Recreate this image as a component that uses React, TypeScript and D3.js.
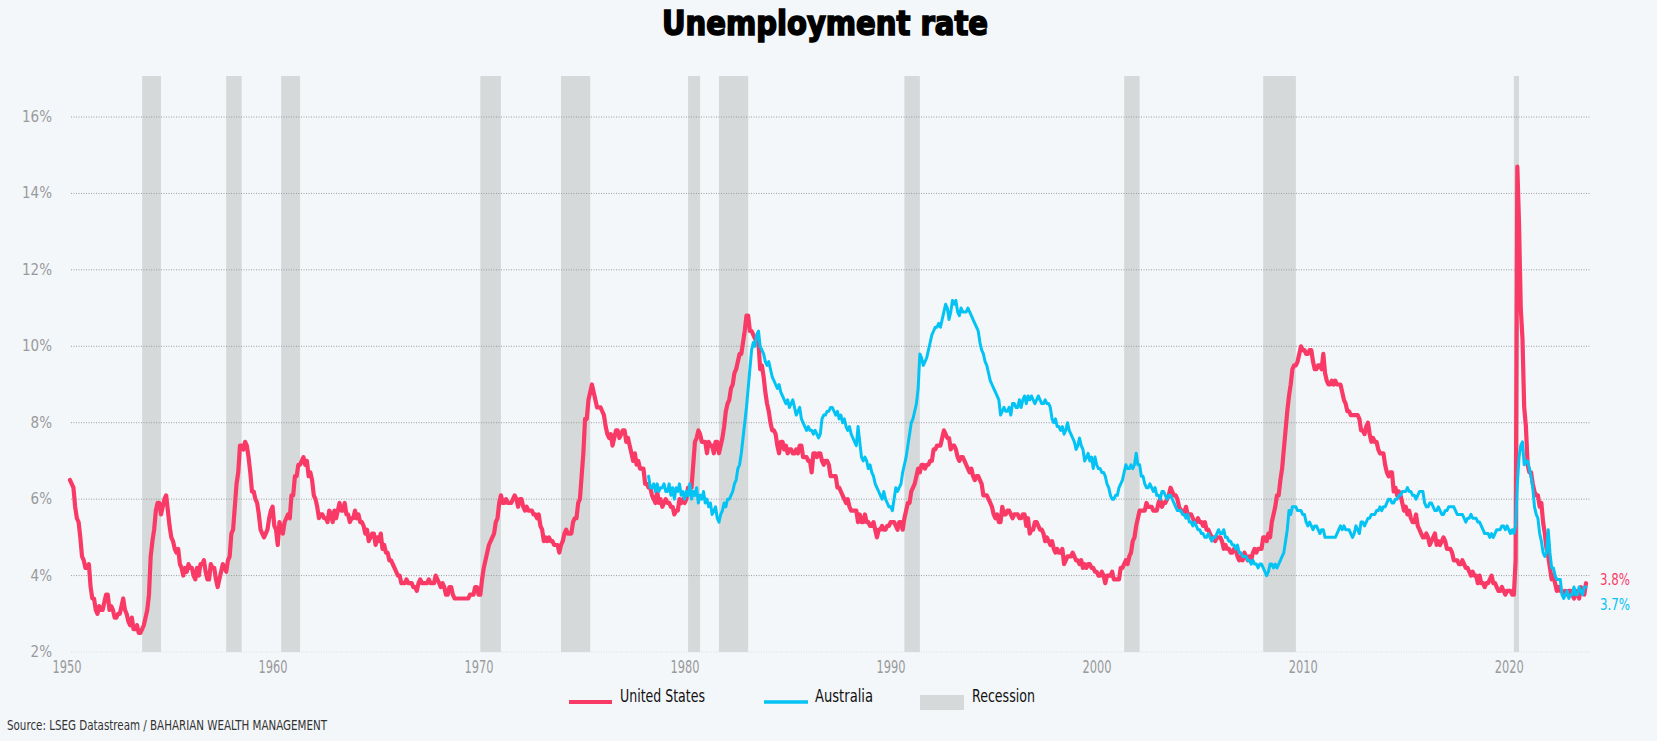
import React from 'react';
import * as d3 from 'd3';

const W = 1657;
const H = 741;
const FONT = "'Liberation Sans Narrow', 'DejaVu Sans Condensed', 'Roboto Condensed', 'DejaVu Sans', sans-serif";

// US unemployment rate, monthly from Jan 1950
const usStart = 1950;
const us1950s = [
  6.5, 6.4, 6.3, 5.8, 5.5, 5.4, 5.0, 4.5, 4.4, 4.2, 4.2, 4.3,
  3.7, 3.4, 3.4, 3.1, 3.0, 3.2, 3.1, 3.1, 3.3, 3.5, 3.5, 3.1,
  3.2, 3.1, 2.9, 2.9, 3.0, 3.0, 3.2, 3.4, 3.1, 3.0, 2.8, 2.7,
  2.9, 2.6, 2.6, 2.7, 2.5, 2.5, 2.6, 2.7, 2.9, 3.1, 3.5, 4.5,
  4.9, 5.2, 5.7, 5.9, 5.9, 5.6, 5.8, 6.0, 6.1, 5.7, 5.3, 5.0,
  4.9, 4.7, 4.6, 4.7, 4.3, 4.2, 4.0, 4.2, 4.1, 4.3, 4.2, 4.2,
  4.0, 3.9, 4.2, 4.0, 4.3, 4.3, 4.4, 4.1, 3.9, 3.9, 4.3, 4.2,
  4.2, 3.9, 3.7, 3.9, 4.1, 4.3, 4.2, 4.1, 4.4, 4.5, 5.1, 5.2,
  5.8, 6.4, 6.7, 7.4, 7.4, 7.3, 7.5, 7.4, 7.1, 6.7, 6.2, 6.2,
  6.0, 5.9, 5.6, 5.2, 5.1, 5.0, 5.1, 5.2, 5.5, 5.7, 5.8, 5.3,
];
const us1960s = [
  5.2, 4.8, 5.4, 5.2, 5.1, 5.4, 5.5, 5.6, 5.5, 6.1, 6.1, 6.6,
  6.6, 6.9, 6.9, 7.0, 7.1, 6.9, 7.0, 6.6, 6.7, 6.5, 6.1, 6.0,
  5.8, 5.5, 5.6, 5.6, 5.5, 5.5, 5.4, 5.7, 5.6, 5.4, 5.7, 5.5,
  5.7, 5.9, 5.7, 5.7, 5.9, 5.6, 5.6, 5.4, 5.5, 5.5, 5.7, 5.5,
  5.6, 5.4, 5.4, 5.3, 5.1, 5.2, 4.9, 5.0, 5.1, 5.1, 4.8, 5.0,
  4.9, 5.1, 4.7, 4.8, 4.6, 4.6, 4.4, 4.4, 4.3, 4.2, 4.1, 4.0,
  4.0, 3.8, 3.8, 3.8, 3.9, 3.8, 3.8, 3.8, 3.7, 3.7, 3.6, 3.8,
  3.9, 3.8, 3.8, 3.8, 3.8, 3.9, 3.8, 3.8, 3.8, 4.0, 3.9, 3.8,
  3.7, 3.8, 3.7, 3.5, 3.5, 3.7, 3.7, 3.5, 3.4, 3.4, 3.4, 3.4,
  3.4, 3.4, 3.4, 3.4, 3.4, 3.5, 3.5, 3.5, 3.7, 3.7, 3.5, 3.5,
];
const us1970s = [
  3.9, 4.2, 4.4, 4.6, 4.8, 4.9, 5.0, 5.1, 5.4, 5.5, 5.9, 6.1,
  5.9, 5.9, 6.0, 5.9, 5.9, 5.9, 6.0, 6.1, 6.0, 5.8, 6.0, 6.0,
  5.8, 5.7, 5.8, 5.7, 5.7, 5.7, 5.6, 5.6, 5.5, 5.6, 5.3, 5.2,
  4.9, 5.0, 4.9, 5.0, 4.9, 4.9, 4.8, 4.8, 4.8, 4.6, 4.8, 4.9,
  5.1, 5.2, 5.1, 5.1, 5.1, 5.4, 5.5, 5.5, 5.9, 6.0, 6.6, 7.2,
  8.1, 8.1, 8.6, 8.8, 9.0, 8.8, 8.6, 8.4, 8.4, 8.4, 8.3, 8.2,
  7.9, 7.7, 7.6, 7.7, 7.4, 7.6, 7.8, 7.8, 7.6, 7.7, 7.8, 7.8,
  7.5, 7.6, 7.4, 7.2, 7.0, 7.2, 6.9, 7.0, 6.8, 6.8, 6.8, 6.4,
  6.4, 6.3, 6.3, 6.1, 6.0, 5.9, 6.2, 5.9, 6.0, 5.8, 5.9, 6.0,
  5.9, 5.9, 5.8, 5.8, 5.6, 5.7, 5.7, 6.0, 5.9, 6.0, 5.9, 6.0,
];
const us1980s = [
  6.3, 6.3, 6.3, 6.9, 7.5, 7.6, 7.8, 7.7, 7.5, 7.5, 7.5, 7.2,
  7.5, 7.4, 7.4, 7.2, 7.5, 7.5, 7.2, 7.4, 7.6, 7.9, 8.3, 8.5,
  8.6, 8.9, 9.0, 9.3, 9.4, 9.6, 9.8, 9.8, 10.1, 10.4, 10.8, 10.8,
  10.4, 10.4, 10.3, 10.2, 10.1, 10.1, 9.4, 9.5, 9.2, 8.8, 8.5, 8.3,
  8.0, 7.8, 7.8, 7.7, 7.4, 7.2, 7.5, 7.5, 7.3, 7.4, 7.2, 7.3,
  7.3, 7.2, 7.2, 7.3, 7.2, 7.4, 7.4, 7.1, 7.1, 7.1, 7.0, 7.0,
  6.7, 7.2, 7.2, 7.1, 7.2, 7.2, 7.0, 6.9, 7.0, 7.0, 6.9, 6.6,
  6.6, 6.6, 6.6, 6.3, 6.3, 6.2, 6.1, 6.0, 5.9, 6.0, 5.8, 5.7,
  5.7, 5.7, 5.7, 5.4, 5.6, 5.4, 5.4, 5.6, 5.4, 5.4, 5.3, 5.3,
  5.4, 5.2, 5.0, 5.2, 5.2, 5.3, 5.2, 5.2, 5.3, 5.3, 5.4, 5.4,
];
const us1990s = [
  5.4, 5.3, 5.2, 5.4, 5.4, 5.2, 5.5, 5.7, 5.9, 5.9, 6.2, 6.3,
  6.4, 6.6, 6.8, 6.7, 6.9, 6.9, 6.8, 6.9, 6.9, 7.0, 7.0, 7.3,
  7.3, 7.4, 7.4, 7.4, 7.6, 7.8, 7.7, 7.6, 7.6, 7.3, 7.4, 7.4,
  7.3, 7.1, 7.0, 7.1, 7.1, 7.0, 6.9, 6.8, 6.7, 6.8, 6.6, 6.5,
  6.6, 6.6, 6.5, 6.4, 6.1, 6.1, 6.1, 6.0, 5.9, 5.8, 5.6, 5.5,
  5.6, 5.4, 5.4, 5.8, 5.6, 5.6, 5.7, 5.7, 5.6, 5.5, 5.6, 5.6,
  5.6, 5.5, 5.5, 5.6, 5.6, 5.3, 5.5, 5.1, 5.2, 5.2, 5.4, 5.4,
  5.3, 5.2, 5.2, 5.1, 4.9, 5.0, 4.9, 4.8, 4.9, 4.7, 4.6, 4.7,
  4.6, 4.6, 4.7, 4.3, 4.4, 4.5, 4.5, 4.5, 4.6, 4.5, 4.4, 4.4,
  4.3, 4.4, 4.2, 4.3, 4.2, 4.3, 4.3, 4.2, 4.2, 4.1, 4.1, 4.0,
];
const us2000s = [
  4.0, 4.1, 4.0, 3.8, 4.0, 4.0, 4.0, 4.1, 3.9, 3.9, 3.9, 3.9,
  4.2, 4.2, 4.3, 4.4, 4.3, 4.5, 4.6, 4.9, 5.0, 5.3, 5.5, 5.7,
  5.7, 5.7, 5.7, 5.9, 5.8, 5.8, 5.8, 5.7, 5.7, 5.7, 5.9, 6.0,
  5.8, 5.9, 5.9, 6.0, 6.1, 6.3, 6.2, 6.1, 6.1, 6.0, 5.8, 5.7,
  5.7, 5.6, 5.8, 5.6, 5.6, 5.6, 5.5, 5.4, 5.4, 5.5, 5.4, 5.4,
  5.3, 5.4, 5.2, 5.2, 5.1, 5.0, 5.0, 4.9, 5.0, 5.0, 5.0, 4.9,
  4.7, 4.8, 4.7, 4.7, 4.6, 4.6, 4.7, 4.7, 4.5, 4.4, 4.5, 4.4,
  4.6, 4.5, 4.4, 4.5, 4.4, 4.6, 4.7, 4.6, 4.7, 4.7, 4.7, 5.0,
  5.0, 4.9, 5.1, 5.0, 5.4, 5.6, 5.8, 6.1, 6.1, 6.5, 6.8, 7.3,
  7.8, 8.3, 8.7, 9.0, 9.4, 9.5, 9.5, 9.6, 9.8, 10.0, 9.9, 9.9,
];
const us2010s = [
  9.8, 9.8, 9.9, 9.9, 9.6, 9.4, 9.4, 9.5, 9.5, 9.4, 9.8, 9.3,
  9.1, 9.0, 9.0, 9.1, 9.0, 9.1, 9.0, 9.0, 9.0, 8.8, 8.6, 8.5,
  8.3, 8.3, 8.2, 8.2, 8.2, 8.2, 8.2, 8.1, 7.8, 7.8, 7.7, 7.9,
  8.0, 7.7, 7.5, 7.6, 7.5, 7.5, 7.3, 7.2, 7.2, 7.2, 6.9, 6.7,
  6.6, 6.7, 6.7, 6.2, 6.3, 6.1, 6.2, 6.1, 5.9, 5.7, 5.8, 5.6,
  5.7, 5.5, 5.4, 5.4, 5.6, 5.3, 5.2, 5.1, 5.0, 5.0, 5.1, 5.0,
  4.8, 4.9, 5.0, 5.1, 4.8, 4.9, 4.8, 4.9, 5.0, 4.9, 4.7, 4.7,
  4.7, 4.6, 4.4, 4.4, 4.4, 4.3, 4.3, 4.4, 4.3, 4.2, 4.2, 4.1,
  4.0, 4.1, 4.0, 4.0, 3.8, 4.0, 3.8, 3.8, 3.7, 3.8, 3.8, 3.9,
  4.0, 3.8, 3.8, 3.7, 3.6, 3.6, 3.7, 3.6, 3.5, 3.6, 3.6, 3.6,
];
const us2020s = [
  3.5, 3.5, 4.4, 14.7, 13.2, 11.0, 10.2, 8.4, 7.9, 6.9, 6.7, 6.7,
  6.4, 6.2, 6.1, 6.1, 5.8, 5.9, 5.4, 5.1, 4.7, 4.5, 4.2, 3.9,
  4.0, 3.8, 3.6, 3.7, 3.6, 3.6, 3.5, 3.6, 3.5, 3.6, 3.6, 3.5,
  3.4, 3.6, 3.5, 3.4, 3.7, 3.6, 3.5, 3.8,
];

// Australia unemployment rate, monthly from Feb 1978
const ausStart = 1978 + 1 / 12;
const aus1970s = [
  6.6, 6.3, 6.3, 6.4, 6.2, 6.4, 6.2, 6.3, 6.3, 6.4, 6.2,
  6.2, 6.4, 6.1, 6.3, 6.0, 6.3, 6.2, 6.4, 6.1, 6.2, 6.0, 6.2,
];
const aus1980s = [
  6.1, 6.4, 6.0, 6.2, 6.1, 6.3, 5.9, 6.1, 6.0, 6.2, 5.9, 6.0,
  5.8, 5.9, 5.6, 5.7, 5.8, 5.5, 5.4, 5.6, 5.7, 5.9, 5.8, 6.0,
  6.0, 6.1, 6.2, 6.4, 6.5, 6.8, 6.9, 7.2, 7.6, 8.0, 8.4, 8.9,
  9.4, 9.9, 10.1, 10.0, 10.3, 10.4, 10.0, 9.9, 9.8, 9.6, 9.5, 9.6,
  9.4, 9.2, 9.1, 9.0, 8.9, 9.0, 8.8, 8.7, 8.6, 8.5, 8.6, 8.4,
  8.5, 8.6, 8.4, 8.2, 8.3, 8.4, 8.1, 8.0, 7.9, 7.8, 7.9, 7.8,
  7.8, 7.7, 7.8, 7.7, 7.6, 7.7, 8.1, 8.2, 8.2, 8.3, 8.3, 8.4,
  8.4, 8.3, 8.2, 8.3, 8.1, 8.2, 8.0, 8.1, 7.9, 7.8, 7.9, 7.7,
  7.6, 7.5, 7.4, 7.9, 7.5, 7.1, 7.0, 7.1, 7.0, 6.8, 6.9, 6.7,
  6.6, 6.4, 6.3, 6.2, 6.1, 6.0, 6.2, 6.0, 5.9, 5.8, 5.8, 5.7,
];
const aus1990s = [
  6.0, 6.3, 6.2, 6.3, 6.4, 6.7, 6.9, 7.1, 7.4, 7.7, 8.0, 8.1,
  8.3, 8.5, 8.9, 9.8, 9.7, 9.5, 9.6, 9.7, 9.9, 10.1, 10.3, 10.4,
  10.5, 10.5, 10.6, 10.5, 10.7, 10.9, 11.1, 11.0, 10.7, 10.9, 11.2, 11.1,
  11.2, 10.9, 10.8, 11.0, 10.9, 10.9, 10.9, 11.0, 10.9, 10.8, 10.7, 10.6,
  10.5, 10.4, 10.1, 9.9, 9.8, 9.6, 9.5, 9.3, 9.1, 9.0, 8.9, 8.8,
  8.7, 8.6, 8.2, 8.3, 8.4, 8.3, 8.3, 8.4, 8.2, 8.5, 8.5, 8.4,
  8.4, 8.6, 8.4, 8.6, 8.7, 8.5, 8.7, 8.6, 8.7, 8.6, 8.5, 8.6,
  8.7, 8.6, 8.5, 8.5, 8.6, 8.5, 8.5, 8.4, 8.1, 8.0, 8.1, 7.9,
  7.9, 7.8, 7.9, 7.7, 7.8, 8.0, 7.8, 7.7, 7.6, 7.5, 7.3, 7.4,
  7.6, 7.4, 7.3, 7.0, 7.1, 7.2, 7.0, 7.1, 6.8, 7.1, 6.9, 6.8,
];
const aus2000s = [
  6.8, 6.7, 6.7, 6.6, 6.4, 6.3, 6.1, 6.0, 6.0, 6.1, 6.1, 6.3,
  6.4, 6.5, 6.7, 6.9, 6.8, 6.8, 6.9, 6.8, 6.9, 7.2, 6.9, 6.9,
  6.6, 6.6, 6.4, 6.3, 6.3, 6.4, 6.3, 6.2, 6.3, 6.1, 6.1, 6.0,
  6.2, 6.2, 6.1, 6.0, 6.1, 6.1, 6.0, 5.9, 5.8, 5.7, 5.7, 5.7,
  5.6, 5.6, 5.5, 5.6, 5.4, 5.4, 5.3, 5.4, 5.3, 5.2, 5.2, 5.1,
  5.1, 5.0, 5.0, 5.1, 5.0, 4.9, 5.0, 5.0, 5.1, 5.2, 5.1, 5.1,
  5.2, 5.0, 5.0, 4.9, 4.9, 4.8, 4.8, 4.7, 4.8, 4.6, 4.6, 4.5,
  4.5, 4.5, 4.4, 4.4, 4.3, 4.4, 4.3, 4.3, 4.2, 4.3, 4.3, 4.2,
  4.1, 4.0, 4.1, 4.3, 4.3, 4.2, 4.3, 4.2, 4.3, 4.4, 4.5, 4.6,
  4.9, 5.2, 5.7, 5.6, 5.8, 5.8, 5.8, 5.7, 5.7, 5.7, 5.6, 5.6,
];
const aus2010s = [
  5.4, 5.3, 5.4, 5.3, 5.2, 5.3, 5.3, 5.2, 5.1, 5.2, 5.2, 5.0,
  5.0, 5.0, 5.0, 5.0, 5.0, 5.0, 5.1, 5.2, 5.3, 5.2, 5.3, 5.2,
  5.2, 5.2, 5.1, 5.0, 5.1, 5.3, 5.2, 5.1, 5.4, 5.4, 5.3, 5.4,
  5.5, 5.5, 5.6, 5.6, 5.6, 5.7, 5.7, 5.8, 5.7, 5.8, 5.8, 5.9,
  6.0, 6.0, 5.9, 5.9, 6.0, 6.0, 6.1, 6.1, 6.2, 6.2, 6.2, 6.3,
  6.2, 6.2, 6.1, 6.1, 6.0, 6.1, 6.2, 6.2, 6.2, 5.9, 5.8, 5.8,
  5.9, 5.9, 5.8, 5.7, 5.7, 5.8, 5.7, 5.6, 5.6, 5.7, 5.7, 5.8,
  5.8, 5.8, 5.8, 5.7, 5.6, 5.6, 5.6, 5.6, 5.5, 5.4, 5.5, 5.5,
  5.6, 5.5, 5.5, 5.5, 5.4, 5.4, 5.3, 5.2, 5.1, 5.1, 5.1, 5.0,
  5.1, 5.0, 5.1, 5.2, 5.2, 5.2, 5.3, 5.3, 5.2, 5.3, 5.2, 5.1,
];
const aus2020s = [
  5.2, 5.1, 5.3, 6.4, 7.1, 7.4, 7.5, 6.9, 7.0, 7.0, 6.8, 6.6,
  6.3, 5.8, 5.6, 5.5, 5.1, 4.9, 4.6, 4.5, 4.6, 5.2, 4.6, 4.2,
  4.2, 4.0, 3.9, 3.9, 3.9, 3.5, 3.4, 3.5, 3.6, 3.4, 3.5, 3.5,
  3.7, 3.5, 3.5, 3.7, 3.6, 3.5, 3.7, 3.7,
];

// NBER US recessions (first month, last month)
const recessions: [string, string][] = [
  ['1953-07', '1954-05'],
  ['1957-08', '1958-04'],
  ['1960-04', '1961-02'],
  ['1969-12', '1970-11'],
  ['1973-11', '1975-03'],
  ['1980-01', '1980-07'],
  ['1981-07', '1982-11'],
  ['1990-07', '1991-03'],
  ['2001-03', '2001-11'],
  ['2007-12', '2009-06'],
  ['2020-02', '2020-04'],
];

const yTicks = [2, 4, 6, 8, 10, 12, 14, 16];
const xTicks = [1950, 1960, 1970, 1980, 1990, 2000, 2010, 2020];
const seriesNames = ['United States', 'Australia'];

const US_COLOR = '#f93a66';
const AU_COLOR = '#02c3f4';
const REC_COLOR = '#d5d9da';
const TICK_COLOR = '#9a9a9a';

const toPoints = (start: number, vals: number[]) => vals.map((v, i) => ({ t: start + i / 12, v }));
const monthStart = (s: string) => {
  const [y, m] = s.split('-').map(Number);
  return y + (m - 1) / 12;
};

export default function App() {
  const usData = toPoints(usStart, [...us1950s, ...us1960s, ...us1970s, ...us1980s, ...us1990s, ...us2000s, ...us2010s, ...us2020s]);
  const auData = toPoints(ausStart, [...aus1970s, ...aus1980s, ...aus1990s, ...aus2000s, ...aus2010s, ...aus2020s]);

  const lastT = usData[usData.length - 1].t;
  const x = d3.scaleLinear().domain([1950, lastT]).range([70, 1586]);
  const y = d3.scaleLinear().domain([2, 16]).range([652, 117]);
  const plotTop = 76;
  const gridX0 = 71;
  const gridX1 = 1590;

  const line = d3.line<{ t: number; v: number }>()
    .x(d => x(d.t))
    .y(d => y(d.v));

  const usLast = usData[usData.length - 1];
  const auLast = auData[auData.length - 1];

  return (
    <div style={{ position: 'absolute', left: 0, top: 0, width: W, height: H, background: '#f3f7fa' }}>
      <svg width={W} height={H} style={{ display: 'block', fontFamily: FONT, fontStretch: 'condensed' }}>
        <rect x={0} y={0} width={W} height={H} fill="#f3f7fa" />

        <text x={825} y={35} textAnchor="middle" fontSize={34} fontWeight={700} fill="#000"
          stroke="#000" strokeWidth={1.6} textLength={326} lengthAdjust="spacingAndGlyphs">
          Unemployment rate
        </text>

        {/* recession bars */}
        {recessions.map(([s, e]) => (
          <rect key={s} x={x(monthStart(s))} y={plotTop}
            width={x(monthStart(e) + 1 / 12) - x(monthStart(s))}
            height={y(2) - plotTop} fill={REC_COLOR} />
        ))}

        {/* gridlines + y labels */}
        {yTicks.map(t => (
          <g key={t}>
            <line x1={gridX0} x2={gridX1} y1={y(t)} y2={y(t)}
              stroke={t === 2 ? '#d8dde2' : '#9c9c9c'} strokeWidth={1} strokeDasharray="1 1.5" />
            <text x={52} y={y(t) + 5} textAnchor="end" fontSize={15} fill={TICK_COLOR}>{t}%</text>
          </g>
        ))}

        {/* x labels */}
        {xTicks.map(t => (
          <text key={t} x={x(t) - 3} y={673} textAnchor="middle" fontSize={17} fill={TICK_COLOR}
            textLength={29} lengthAdjust="spacingAndGlyphs">{t}</text>
        ))}

        {/* lines */}
        <path d={line(usData) || ''} fill="none" stroke={US_COLOR} strokeWidth={4.2} strokeLinejoin="round" strokeLinecap="round" />
        <path d={line(auData) || ''} fill="none" stroke={AU_COLOR} strokeWidth={3} strokeLinejoin="round" strokeLinecap="round" />

        {/* end labels */}
        <text x={1600} y={585} fontSize={15} fill={US_COLOR} textLength={30} lengthAdjust="spacingAndGlyphs">{usLast.v.toFixed(1)}%</text>
        <text x={1600} y={610} fontSize={15} fill={AU_COLOR} textLength={30} lengthAdjust="spacingAndGlyphs">{auLast.v.toFixed(1)}%</text>

        {/* legend */}
        <line x1={569} x2={612} y1={702} y2={702} stroke={US_COLOR} strokeWidth={4} />
        <text x={620} y={702} fontSize={18} fill="#111" textLength={85} lengthAdjust="spacingAndGlyphs">{seriesNames[0]}</text>
        <line x1={764} x2={808} y1={702} y2={702} stroke={AU_COLOR} strokeWidth={3.5} />
        <text x={815} y={702} fontSize={18} fill="#111" textLength={58} lengthAdjust="spacingAndGlyphs">{seriesNames[1]}</text>
        <rect x={920} y={695} width={44} height={15} fill={REC_COLOR} />
        <text x={972} y={702} fontSize={18} fill="#111" textLength={63} lengthAdjust="spacingAndGlyphs">Recession</text>

        <text x={7} y={730} fontSize={14} fill="#333" textLength={320} lengthAdjust="spacingAndGlyphs">
          Source: LSEG Datastream / BAHARIAN WEALTH MANAGEMENT
        </text>
      </svg>
    </div>
  );
}
